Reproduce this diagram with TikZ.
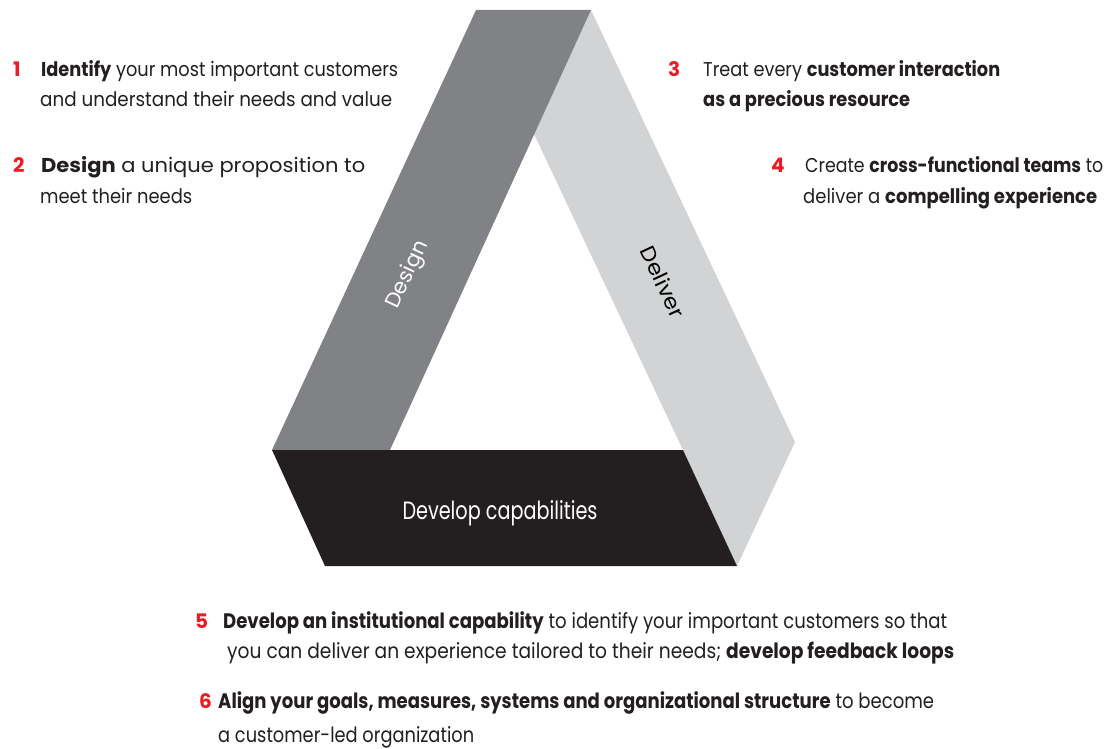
\documentclass[tikz,border=0pt]{standalone}
\usepackage{fontspec}
\setmainfont{Poppins}
\usepackage{graphicx}
\definecolor{numred}{HTML}{ED1C24}
\definecolor{darkband}{HTML}{808285}
\definecolor{lightband}{HTML}{D1D3D4}
\definecolor{blackband}{HTML}{231F20}
\definecolor{txt}{HTML}{231F20}
\newcommand{\fitw}[2]{\resizebox{#1pt}{\height}{#2}}
\tikzset{
  num/.style={anchor=base west, inner sep=0pt, text=numred, font=\fontsize{20}{24}\selectfont\bfseries},
  line/.style={anchor=base west, inner sep=0pt, text=txt, font=\fontsize{20}{24}\selectfont},
  bline/.style={anchor=base west, inner sep=0pt, text=txt, font=\fontsize{21}{25}\selectfont},
  bandlabel/.style={inner sep=0pt, font=\fontsize{21}{24}\selectfont},
}
\begin{document}
\begin{tikzpicture}[x=1pt,y=-1pt]
\useasboundingbox (0,0) rectangle (1111,749);
% bands
\fill[lightband] (591,10) -- (795,442) -- (737,566) -- (683,450) -- (534,134) -- cycle;
\fill[darkband] (476,10) -- (591,10) -- (390,450) -- (272,450) -- cycle;
\fill[blackband] (272,450) -- (683,450) -- (737,566) -- (325,566) -- cycle;
\node[bandlabel, rotate=65, text=white] (design) at (408,275) {\fitw{72}{Design}};
\node[bandlabel, rotate=-65, text=black] (deliver) at (663,282) {\fitw{76}{Deliver}};
\node[anchor=base, text=white, font=\fontsize{25}{28}\selectfont, inner sep=0pt] (devcap) at (500,519) {\fitw{195}{Develop capabilities}};
% top left
\node[num] (n1) at (13,77) {1};
\node[line] (l1a) at (41,77) {\fitw{357}{\textbf{Identify} your most important customers}};
\node[line] (l1b) at (40,107) {\fitw{352}{and understand their needs and value}};
\node[num] (n2) at (13,172) {2};
\node[line] (l2a) at (41,172) {\fitw{324}{\textbf{Design} a unique proposition to}};
\node[line] (l2b) at (40,204) {\fitw{152}{meet their needs}};
% top right
\node[num] (n3) at (668,77) {3};
\node[line] (l3a) at (703,77) {\fitw{297}{Treat every \textbf{customer interaction}}};
\node[line] (l3b) at (703,107) {\fitw{207}{\textbf{as a precious resource}}};
\node[num] (n4) at (771,172) {4};
\node[line] (l4a) at (805,172) {\fitw{298}{Create \textbf{cross-functional teams} to}};
\node[line] (l4b) at (803,204) {\fitw{294}{deliver a \textbf{compelling experience}}};
% bottom
\node[num] (n5) at (195,628) {5};
\node[bline] (l5a) at (223,628) {\fitw{724}{\textbf{Develop an institutional capability} to identify your important customers so that}};
\node[bline] (l5b) at (227,658) {\fitw{727}{you can deliver an experience tailored to their needs; \textbf{develop feedback loops}}};
\node[num] (n6) at (199,708) {6};
\node[bline] (l6a) at (218,708) {\fitw{716}{\textbf{Align your goals, measures, systems and organizational structure} to become}};
\node[bline] (l6b) at (218,742) {\fitw{256}{a customer-led organization}};
\end{tikzpicture}
\end{document}
